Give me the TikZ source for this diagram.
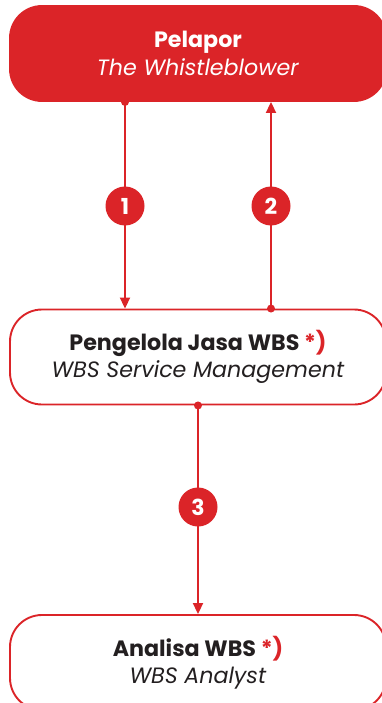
\documentclass[tikz,border=0pt]{standalone}
\usepackage{fontspec}
\setmainfont{Poppins}
\usetikzlibrary{arrows.meta}
\definecolor{wred}{RGB}{219,36,40}
\definecolor{wtxt}{RGB}{35,31,32}
\begin{document}
\begin{tikzpicture}[x=1pt,y=-1pt,
  box/.style={draw=wred, line width=1.9pt, rounded corners=32pt, minimum width=376pt, minimum height=95pt,
    align=center, inner sep=0pt, text=wtxt, font=\fontsize{22.2}{27.5}\selectfont},
  topbox/.style={box, fill=wred, text=white},
  num/.style={circle, fill=wred, text=white, minimum size=39pt, inner sep=0pt, font=\fontsize{22}{22}\selectfont\bfseries},
  link/.style={draw=wred, line width=1.9pt},
  tip/.style={-{Triangle[width=10pt,length=11pt]}},
  dotr/.style={fill=wred}]
\useasboundingbox (0,0) rectangle (382,703);
\clip (0,0) rectangle (382,703);
\node[topbox] (top) at (198,53.5) {\textbf{Pelapor}\\\textit{The Whistleblower}};
\node[box] (mid) at (198,357) {\textbf{Pengelola Jasa WBS \textcolor{wred}{*)}}\\\textit{WBS Service Management}};
\node[box] (bot) at (198,662.5) {\textbf{Analisa WBS \textcolor{wred}{*)}}\\\textit{WBS Analyst}};
\coordinate (c1) at (125,206);
\coordinate (c2) at (271,206);
\coordinate (c3) at (198,507);
\draw[link,tip] (top.south -| c1) -- (mid.north -| c1);
\draw[link,tip] (mid.north -| c2) -- (top.south -| c2);
\draw[link,tip] (mid.south -| c3) -- (bot.north -| c3);
\fill[dotr] (top.south -| c1) circle[radius=4pt];
\fill[dotr] (mid.north -| c2) circle[radius=4pt];
\fill[dotr] (mid.south -| c3) circle[radius=4pt];
\node[num] (n1) at (c1) {1};
\node[num] (n2) at (c2) {2};
\node[num] (n3) at (c3) {3};
\end{tikzpicture}
\end{document}
